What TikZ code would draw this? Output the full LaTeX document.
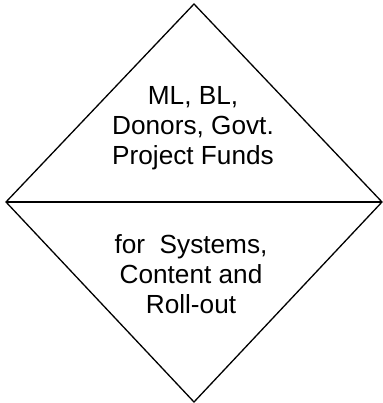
\documentclass[tikz,border=0pt]{standalone}
\usepackage{fontspec}
\setmainfont{Liberation Sans}
\begin{document}
\begin{tikzpicture}[x=1bp,y=1bp,
  edge/.style={draw=black,line width=1.3bp,line join=miter},
  label/.style={align=center,inner sep=0pt,font=\fontsize{26.2bp}{30bp}\selectfont,anchor=base}]
\useasboundingbox (0,0) rectangle (383,403);
\coordinate (T) at (194,399);
\coordinate (L) at (6,201);
\coordinate (R) at (382,201);
\coordinate (B) at (194,1);
\draw[edge] (T) -- (R) -- (B) -- (L) -- cycle;
\draw[edge] (L) -- (R);
\node[label] (up) at (193,239) {ML, BL,\\Donors, Govt.\\Project Funds};
\node[label] (low) at (191,90) {for~~Systems,\\Content and\\Roll-out};
\end{tikzpicture}
\end{document}
